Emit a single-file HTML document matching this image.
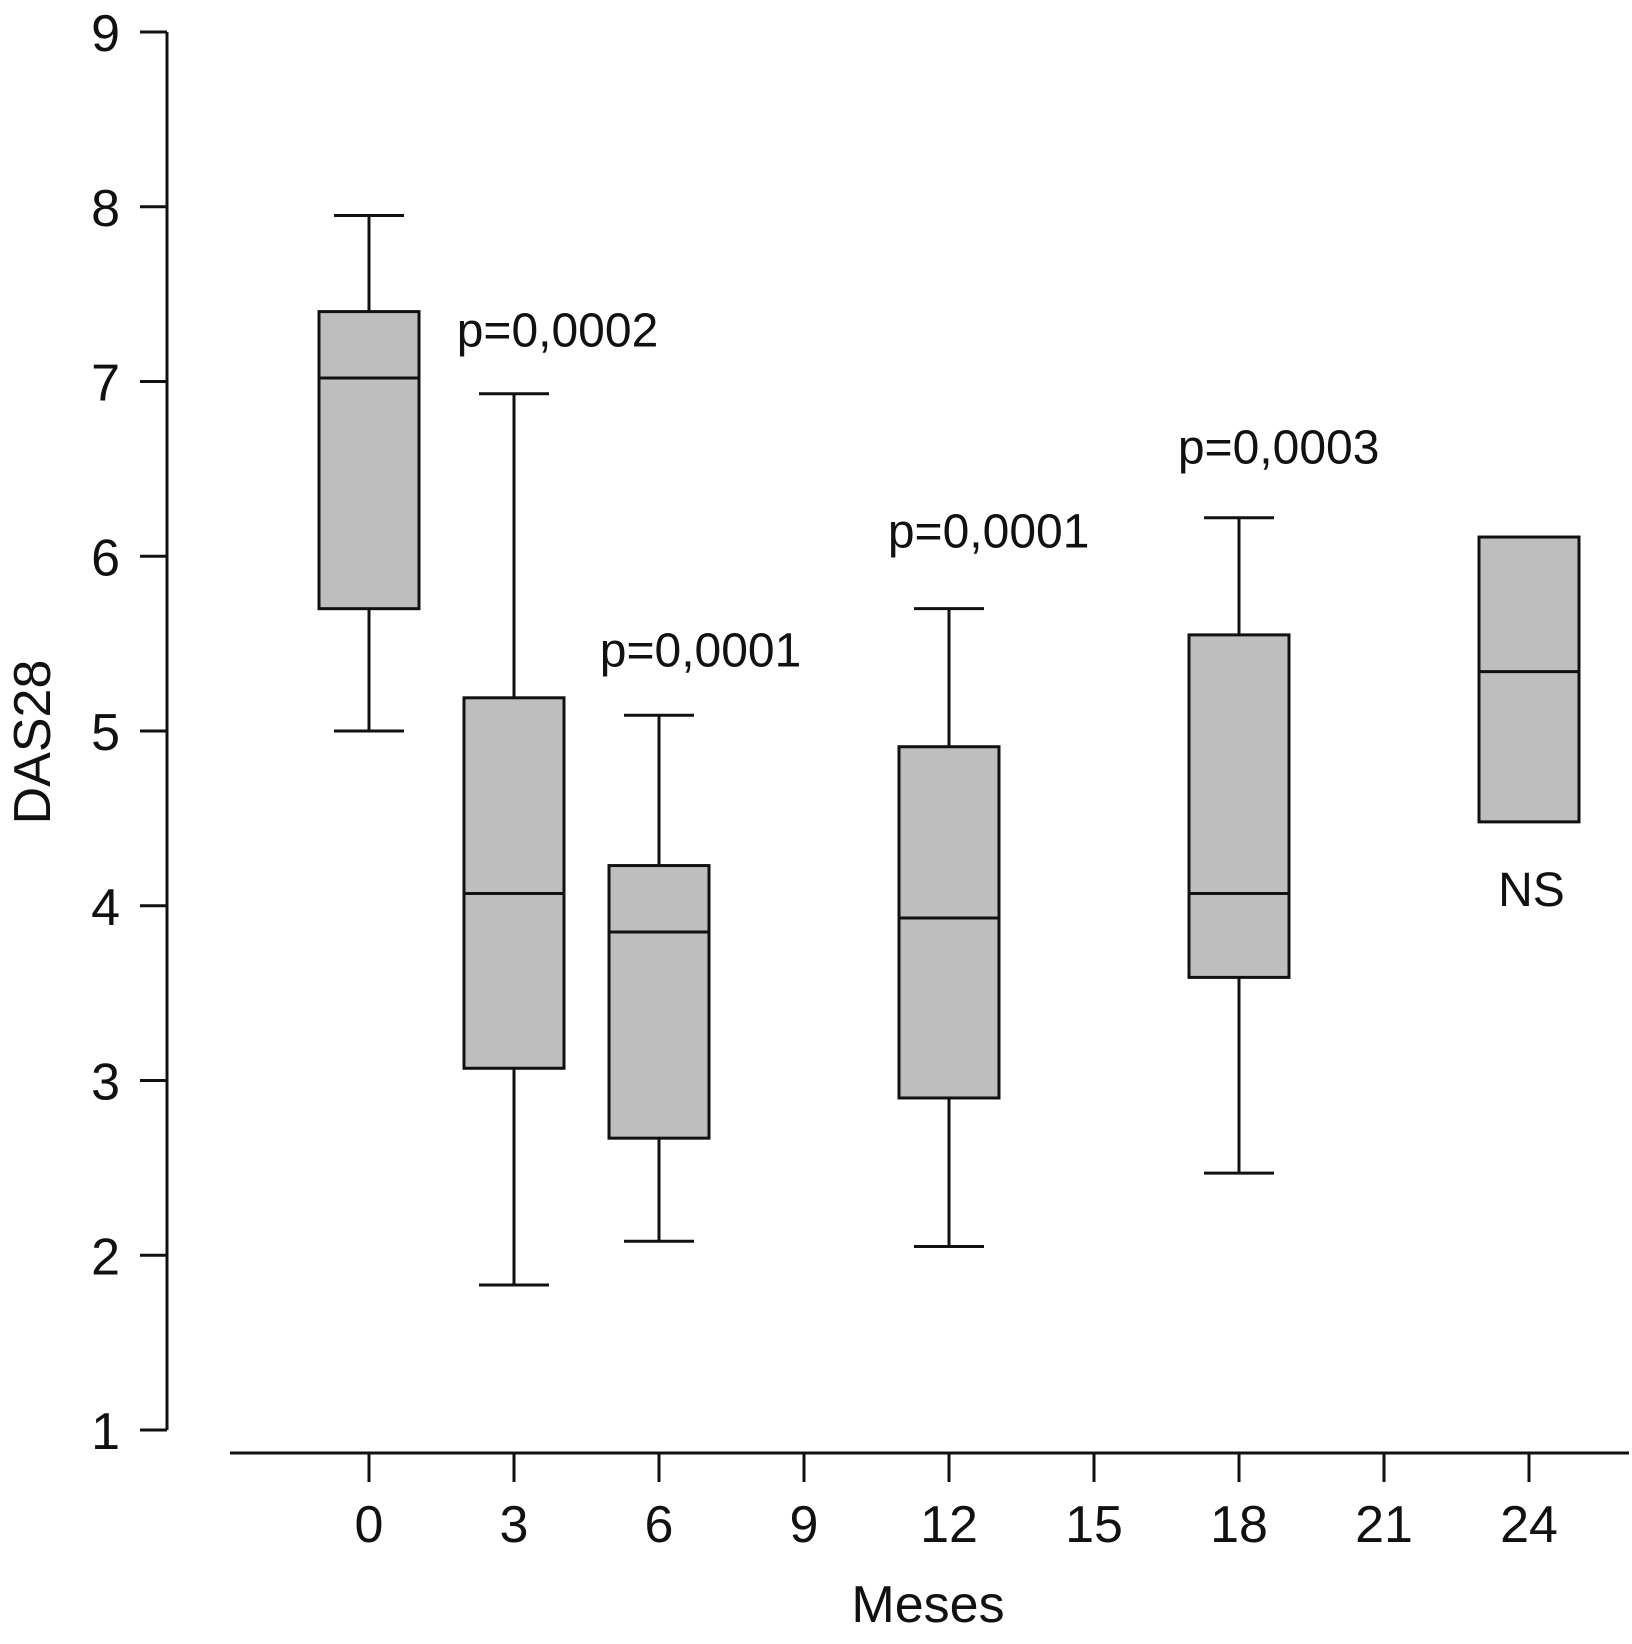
<!DOCTYPE html>
<html><head><meta charset="utf-8"><style>
html,body{margin:0;padding:0;background:#fff;}
svg{display:block;font-family:"Liberation Sans",Arial,sans-serif;}
</style></head><body>
<svg id="chart" width="1632" height="1644" viewBox="0 0 1632 1644" xmlns="http://www.w3.org/2000/svg"></svg>
<script>
const months = [0, 3, 6, 12, 18, 24];
const whiskerLow = [5.0, 1.83, 2.08, 2.05, 2.47, null];
const whiskerHigh = [7.95, 6.93, 5.09, 5.70, 6.22, null];
const q1 = [5.7, 3.07, 2.67, 2.90, 3.59, 4.48];
const q3 = [7.4, 5.19, 4.23, 4.91, 5.55, 6.11];
const medians = [7.02, 4.07, 3.85, 3.93, 4.07, 5.34];
const xTicks = [0, 3, 6, 9, 12, 15, 18, 21, 24];
const yTicks = [1, 2, 3, 4, 5, 6, 7, 8, 9];
const annotations = ["p=0,0002", "p=0,0001", "p=0,0001", "p=0,0003", "NS"];
const annotationMonth = [3.9, 6.86, 12.82, 18.82, 24.05];
const annotationValue = [7.2, 5.37, 6.05, 6.53, 4.0];

const NS = "http://www.w3.org/2000/svg";
const svg = document.getElementById('chart');
const xs = m => 369 + m * (1160 / 24);
const ys = v => 32 + (9 - v) * 174.75;
function el(tag, attrs, parent) {
  const e = document.createElementNS(NS, tag);
  for (const k in attrs) e.setAttribute(k, attrs[k]);
  (parent || svg).appendChild(e);
  return e;
}
const S = {stroke: '#111', 'stroke-width': 3, fill: 'none'};

let yAxis = el('line', Object.assign({x1: 167, x2: 167, y1: ys(9), y2: ys(1)}, S));


yTicks.forEach(t => {
  let tk = el('line', Object.assign({x1: 140, x2: 167, y1: ys(t), y2: ys(t)}, S));
  
  
  let lb = el('text', {x: 120, y: ys(t) + 19, 'text-anchor': 'end', 'font-size': 52, fill: '#111'});
  lb.textContent = t;
  
  
});
let xAxis = el('line', Object.assign({x1: 230, x2: 1629, y1: 1453, y2: 1453}, S));


xTicks.forEach(t => {
  let tk = el('line', Object.assign({x1: xs(t), x2: xs(t), y1: 1453, y2: 1482}, S));
  
  
  let lb = el('text', {x: xs(t), y: 1542, 'text-anchor': 'middle', 'font-size': 52, fill: '#111'});
  lb.textContent = t;
  
  
});
let xt = el('text', {x: 928, y: 1622, 'text-anchor': 'middle', 'font-size': 52, fill: '#111'});
xt.textContent = 'Meses';


let yt = el('text', {x: 0, y: 0, 'text-anchor': 'middle', 'font-size': 52, fill: '#111', transform: 'translate(50,742) rotate(-90)'});
yt.textContent = 'DAS28';



months.forEach((m, i) => {
  const cx = xs(m);
  const g = el('g', {});
  
  
  if (whiskerHigh[i] != null) {
    el('line', Object.assign({x1: cx, x2: cx, y1: ys(whiskerHigh[i]), y2: ys(q3[i])}, S), g);
    el('line', Object.assign({x1: cx - 35, x2: cx + 35, y1: ys(whiskerHigh[i]), y2: ys(whiskerHigh[i])}, S), g);
  }
  if (whiskerLow[i] != null) {
    el('line', Object.assign({x1: cx, x2: cx, y1: ys(q1[i]), y2: ys(whiskerLow[i])}, S), g);
    el('line', Object.assign({x1: cx - 35, x2: cx + 35, y1: ys(whiskerLow[i]), y2: ys(whiskerLow[i])}, S), g);
  }
  el('rect', {x: cx - 50, y: ys(q3[i]), width: 100, height: ys(q1[i]) - ys(q3[i]), fill: '#bebebe', stroke: '#111', 'stroke-width': 3}, g);
  el('line', Object.assign({x1: cx - 50, x2: cx + 50, y1: ys(medians[i]), y2: ys(medians[i])}, S), g);
});

annotations.forEach((a, i) => {
  let t = el('text', {x: xs(annotationMonth[i]), y: ys(annotationValue[i]), 'text-anchor': 'middle', 'font-size': 48, fill: '#111'});
  t.textContent = a;
  
  
});
</script>
</body></html>
